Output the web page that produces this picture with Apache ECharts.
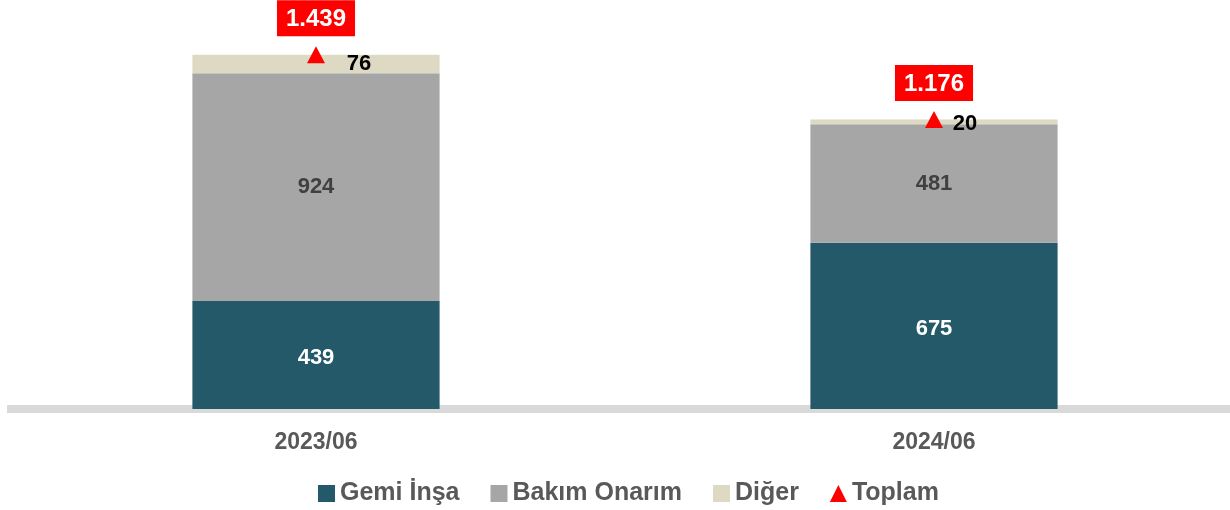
<!DOCTYPE html>
<html>
<head>
<meta charset="utf-8">
<script src="https://cdn.jsdelivr.net/npm/echarts@6/dist/echarts.min.js"></script>
<style>
  html, body { margin: 0; padding: 0; background: #fff; }
  #chart { width: 1230px; height: 510px; }
</style>
</head>
<body>
<div id="chart"></div>
<script>
// kategoriler ve seri değerleri
const categories = ['2023/06', '2024/06'];
const gemiInsa = [439, 675];
const bakimOnarim = [924, 481];
const diger = [76, 20];
const toplam = [1439, 1176];

// Diğer etiketleri barın sağına kayık duruyor
const digerLabelOffset = [[43, 0], [31, 2]];

const font = '"Liberation Sans", Arial, sans-serif';
const fmtTr = (v) => String(v).replace(/\B(?=(\d{3})+(?!\d))/g, '.');

const chart = echarts.init(document.getElementById('chart'));
chart.setOption({
  animation: false,
  color: ['#235968', '#a6a6a6', '#ddd9c3', '#ff0000'],
  textStyle: { fontFamily: font },
  grid: { left: 7, width: 1236, top: 15, bottom: 101, outerBoundsMode: 'none', containLabel: false },
  legend: {
    left: 313,
    top: 476,
    itemWidth: 17,
    itemHeight: 17,
    itemGap: 31,
    textStyle: { fontSize: 25, fontWeight: 'bold', color: '#595959', fontFamily: font },
    data: [
      { name: 'Gemi İnşa', icon: 'rect' },
      { name: 'Bakım Onarım', icon: 'rect' },
      { name: 'Diğer', icon: 'rect' },
      { name: 'Toplam', icon: 'triangle' },
    ],
  },
  xAxis: {
    type: 'category',
    data: categories,
    offset: 4,
    axisLine: { lineStyle: { color: '#d9d9d9', width: 8, cap: 'butt' } },
    axisTick: { show: false },
    axisLabel: { margin: 18, fontSize: 23, fontWeight: 'bold', color: '#595959', fontFamily: font },
  },
  yAxis: {
    type: 'value',
    min: 0,
    max: 1600,
    show: false,
    splitLine: { show: false },
  },
  series: [
    {
      name: 'Gemi İnşa',
      type: 'bar',
      stack: 'toplam',
      barWidth: '40%',
      data: gemiInsa,
      label: {
        show: true, position: 'inside', offset: [0, 3],
        fontSize: 22, fontWeight: 'bold', color: '#fff', fontFamily: font,
      },
    },
    {
      name: 'Bakım Onarım',
      type: 'bar',
      stack: 'toplam',
      data: bakimOnarim,
      label: {
        show: true, position: 'inside',
        fontSize: 22, fontWeight: 'bold', color: '#404040', fontFamily: font,
      },
    },
    {
      name: 'Diğer',
      type: 'bar',
      stack: 'toplam',
      data: diger.map((v, i) => ({ value: v, label: { offset: digerLabelOffset[i] } })),
      label: {
        show: true, position: 'inside',
        fontSize: 22, fontWeight: 'bold', color: '#000', fontFamily: font,
      },
    },
    {
      name: 'Toplam',
      type: 'scatter',
      symbol: 'triangle',
      symbolSize: [18, 17],
      z: 5,
      itemStyle: { color: '#ff0000', opacity: 1 },
      data: toplam,
      label: {
        show: true,
        position: 'top',
        distance: 10,
        formatter: (p) => fmtTr(p.value),
        fontSize: 24,
        fontWeight: 'bold',
        color: '#fff',
        fontFamily: font,
        backgroundColor: '#ff0000',
        opacity: 1,
        padding: [7, 9, 5, 9],
      },
    },
  ],
});
</script>
</body>
</html>
